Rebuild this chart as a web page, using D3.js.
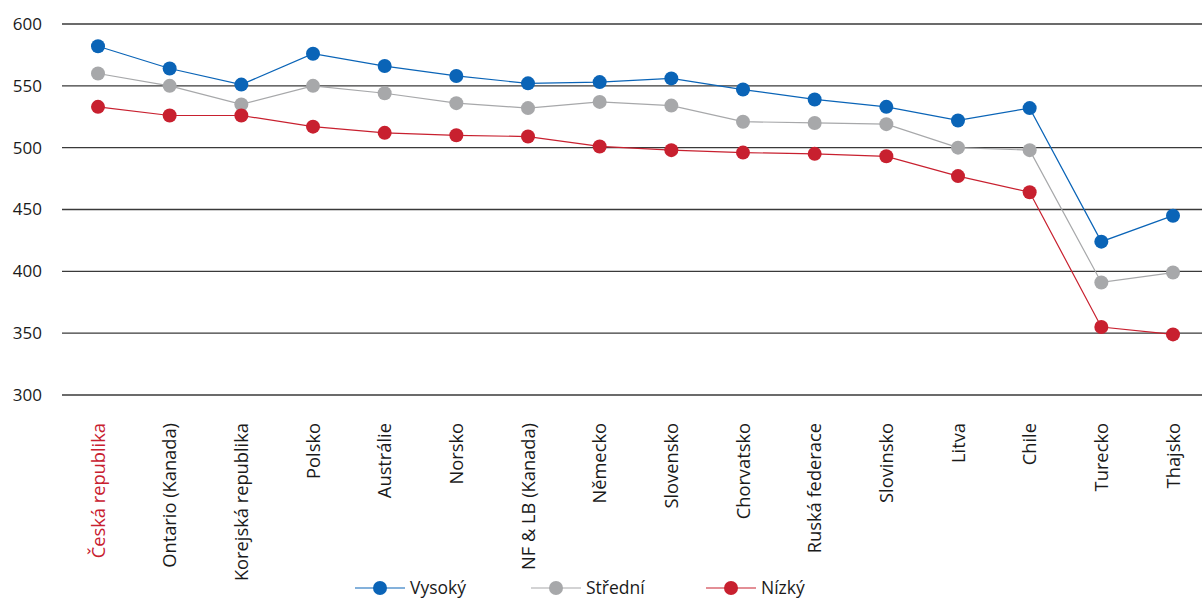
<!DOCTYPE html>
<html>
<head>
<meta charset="utf-8">
<script src="https://cdn.jsdelivr.net/npm/d3@7"></script>
<style>
  body { margin: 0; background: #fff; }
  svg { display: block; font-family: "Open Sans", "Noto Sans", sans-serif; }
</style>
</head>
<body>
<svg id="chart" width="1202" height="599"></svg>
<script>
const categories = ['Česká republika', 'Ontario (Kanada)', 'Korejská republika', 'Polsko', 'Austrálie', 'Norsko',
  'NF & LB (Kanada)', 'Německo', 'Slovensko', 'Chorvatsko', 'Ruská federace', 'Slovinsko', 'Litva', 'Chile',
  'Turecko', 'Thajsko'];
const vysoky = [582, 564, 551, 576, 566, 558, 552, 553, 556, 547, 539, 533, 522, 532, 424, 445];
const stredni = [560, 550, 535, 550, 544, 536, 532, 537, 534, 521, 520, 519, 500, 498, 391, 399];
const nizky = [533, 526, 526, 517, 512, 510, 509, 501, 498, 496, 495, 493, 477, 464, 355, 349];
const yTicks = [300, 350, 400, 450, 500, 550, 600];

const series = [
  { name: 'Vysoký', values: vysoky, color: '#0a64b7' },
  { name: 'Střední', values: stredni, color: '#a7a8aa' },
  { name: 'Nízký', values: nizky, color: '#c8202f' },
];

const svg = d3.select('#chart');

const x = d3.scalePoint().domain(categories).range([98, 1173]);
const y = d3.scaleLinear().domain([300, 600]).range([395, 24]);

// gridlines
svg.append('g')
  .selectAll('line')
  .data(yTicks)
  .enter()
  .append('line')
  .attr('x1', 62)
  .attr('x2', 1202)
  .attr('y1', (d) => y(d))
  .attr('y2', (d) => y(d))
  .attr('stroke', '#3a3a3a')
  .attr('stroke-width', 1.3);

const yAxis = svg.append('g')
  .attr('transform', 'translate(42,0)')
  .call(d3.axisLeft(y).tickValues(yTicks).tickSize(0).tickPadding(0));
yAxis.select('.domain').remove();
yAxis.selectAll('text')
  .attr('font-size', 17)
  .attr('fill', '#1a1a1a')
  .attr('font-family', '"Open Sans", sans-serif');

// category labels, rotated
svg.append('g')
  .selectAll('text')
  .data(categories)
  .enter()
  .append('text')
  .attr('transform', (d) => `translate(${x(d) + 6.5},423) rotate(-90)`)
  .attr('text-anchor', 'end')
  .attr('font-size', 18.3)
  .attr('fill', (d, i) => (i === 0 ? '#c8202f' : '#1a1a1a'))
  .text((d) => d);

const line = d3.line()
  .x((d, i) => x(categories[i]))
  .y((d) => y(d));

series.forEach((s) => {
  const g = svg.append('g');
  g.append('path')
    .datum(s.values)
    .attr('fill', 'none')
    .attr('stroke', s.color)
    .attr('stroke-width', 1.2)
    .attr('d', line);
  g.selectAll('circle')
    .data(s.values)
    .enter()
    .append('circle')
    .attr('cx', (d, i) => x(categories[i]))
    .attr('cy', (d) => y(d))
    .attr('r', 7)
    .attr('fill', s.color);
});

// legend
const legendX = [355, 531, 706];
const legend = svg.append('g')
  .selectAll('g')
  .data(series)
  .enter()
  .append('g')
  .attr('transform', (d, i) => `translate(${legendX[i]},588)`);
legend.append('line')
  .attr('x1', 0)
  .attr('x2', 50)
  .attr('stroke', (d) => d.color)
  .attr('stroke-width', 1.2);
legend.append('circle')
  .attr('cx', 25)
  .attr('r', 7)
  .attr('fill', (d) => d.color);
legend.append('text')
  .attr('x', 55)
  .attr('y', 6)
  .attr('font-size', 17.5)
  .attr('fill', '#1a1a1a')
  .text((d) => d.name);
</script>
</body>
</html>
